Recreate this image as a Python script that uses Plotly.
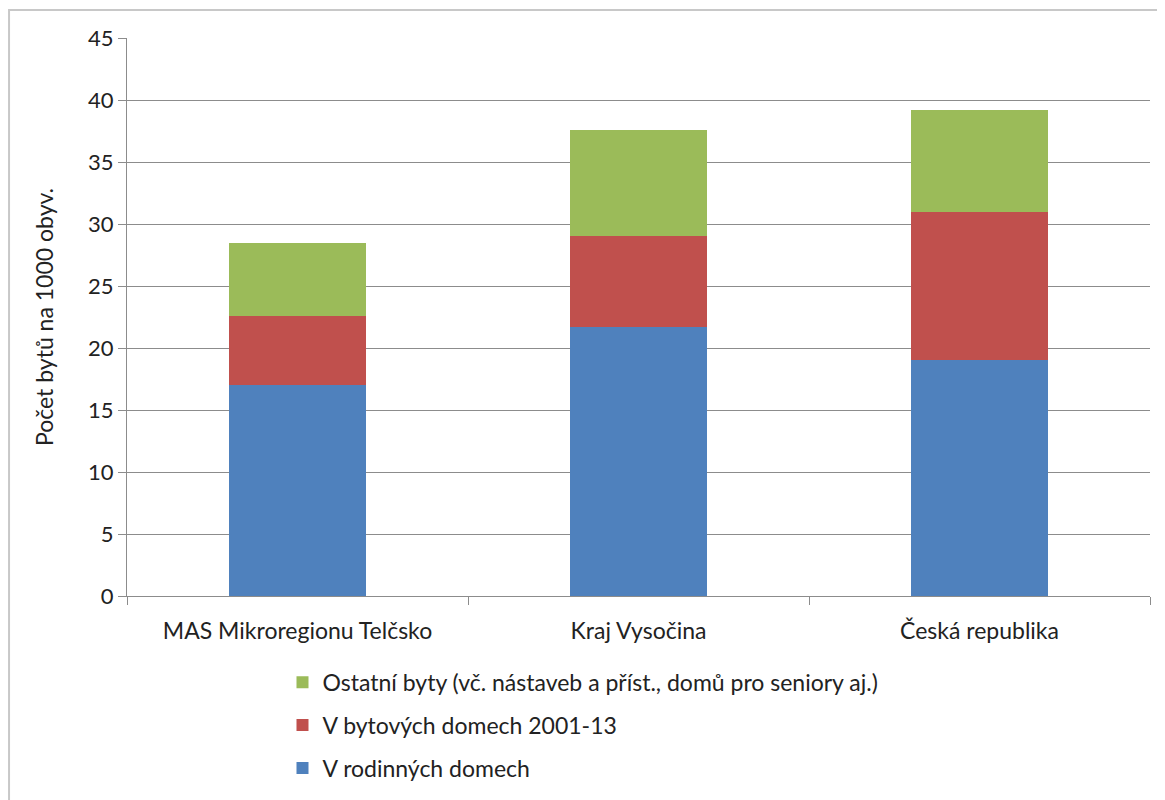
import plotly.graph_objects as go

categories = ["MAS Mikroregionu Telčsko", "Kraj Vysočina", "Česká republika"]
rodinne = [17.0, 21.7, 19.0]
bytove = [5.6, 7.3, 12.0]
ostatni = [5.9, 8.6, 8.2]
series_names = ["V rodinných domech", "V bytových domech 2001-13",
                "Ostatní byty (vč. nástaveb a příst., domů pro seniory aj.)"]
colors = ["#4F81BD", "#C0504D", "#9BBB59"]
legend_ranks = [3, 2, 1]

FONT = "Lato, Open Sans, sans-serif"

fig = go.Figure()
for i, (name, vals) in enumerate(zip(series_names, [rodinne, bytove, ostatni])):
    fig.add_trace(go.Bar(x=categories, y=vals, name=name, marker_color=colors[i],
                         marker_line_width=0, legendgroup=str(i),
                         legendrank=legend_ranks[i]))

fig.update_layout(
    barmode="stack",
    bargap=0.6,
    width=1157, height=800,
    margin=dict(l=119, r=15, t=30, b=212),
    paper_bgcolor="white", plot_bgcolor="white",
    font=dict(family=FONT, size=21, color="#222"),
    legend=dict(orientation="v", x=0.152, xanchor="left", y=-0.116, yanchor="top",
                traceorder="grouped", tracegroupgap=10, font=dict(size=23),
                itemwidth=30),
    yaxis=dict(range=[0, 45], dtick=5, showgrid=True, gridcolor="#8c8c8c", gridwidth=1,
               showline=True, linecolor="#8c8c8c", ticks="outside", ticklen=8,
               tickcolor="#8c8c8c", zeroline=False, tickfont=dict(size=22),
               title=dict(text="Počet bytů na 1000 obyv.", standoff=28, font=dict(size=23))),
    xaxis=dict(showline=True, linecolor="#8c8c8c", ticks="outside", ticklen=8,
               tickcolor="#8c8c8c", tickson="boundaries", showgrid=False,
               tickfont=dict(size=23), ticklabelstandoff=14),
    shapes=[dict(type="rect", xref="paper", yref="paper",
                 x0=-0.1153, y0=-0.5, x1=1.1, y1=1.0502,
                 line=dict(color="#c8c8c8", width=2), fillcolor="rgba(0,0,0,0)",
                 layer="below")],
)

fig.write_html("out.html")
